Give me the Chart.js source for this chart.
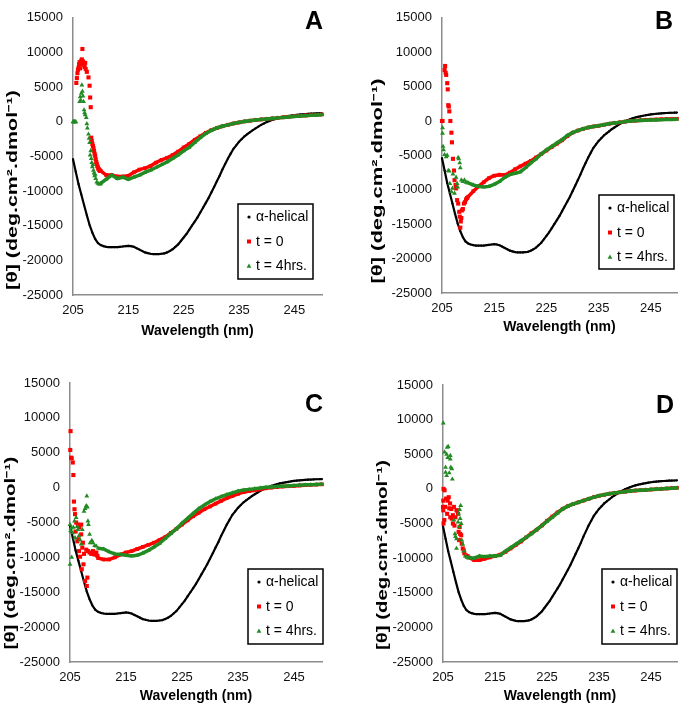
<!doctype html>
<html lang="en">
<head>
<meta charset="utf-8">
<title>CD spectra</title>
<script src="https://cdn.jsdelivr.net/npm/chart.js@4.4.0/dist/chart.umd.min.js"></script>
<style>
  body { margin: 0; background: #fff; }
  #page { position: relative; width: 683px; height: 707px; overflow: hidden; }
  .panel { position: absolute; }
</style>
</head>
<body>
<div id="page">
  <div class="panel" style="left:0;top:0;width:340px;height:350px"><canvas id="chartA"></canvas></div>
  <div class="panel" style="left:340px;top:0;width:343px;height:350px"><canvas id="chartB"></canvas></div>
  <div class="panel" style="left:0;top:350px;width:340px;height:357px"><canvas id="chartC"></canvas></div>
  <div class="panel" style="left:340px;top:350px;width:343px;height:357px"><canvas id="chartD"></canvas></div>
</div>
<script>
// axes and labels
const xTicks = [205, 215, 225, 235, 245];
const yTicks = [15000, 10000, 5000, 0, -5000, -10000, -15000, -20000, -25000];
const seriesLabels = ['α-helical', 't = 0', 't = 4hrs.'];
const xTitle = 'Wavelength (nm)';
const yTitle = '[θ] (deg.cm².dmol⁻¹)';

// reference alpha-helical spectrum (same in every panel)
const helicalWl = [205,205.5,206,206.5,207,207.5,208,208.5,209,209.5,210,210.5,211,211.5,212,212.5,213,213.5,214,214.5,
  215,215.5,216,216.5,217,217.5,218,218.5,219,219.5,220,220.5,221,221.5,222,222.5,223,223.5,224,224.5,
  225,225.5,226,226.5,227,227.5,228,228.5,229,229.5,230,230.5,231,231.5,232,232.5,233,233.5,234,234.5,
  235,235.5,236,236.5,237,237.5,238,238.5,239,239.5,240,240.5,241,241.5,242,242.5,243,243.5,244,244.5,
  245,245.5,246,246.5,247,247.5,248,248.5,249,249.5,250];
const helicalTheta = [-5400,-7200,-9000,-10500,-12000,-13500,-14900,-16000,-16900,-17500,
  -17800,-17950,-18050,-18100,-18100,-18100,-18100,-18050,-18000,-17950,
  -17900,-17950,-18050,-18250,-18450,-18650,-18850,-18950,-19050,-19100,
  -19100,-19100,-19050,-19000,-18850,-18650,-18400,-18050,-17700,-17200,
  -16700,-16200,-15600,-15000,-14400,-13800,-13100,-12400,-11700,-11000,
  -10200,-9400,-8600,-7800,-6900,-6100,-5300,-4600,-3900,-3400,
  -2900,-2500,-2100,-1800,-1500,-1200,-950,-700,-450,-250,
  -50,100,250,380,500,600,680,760,830,900,
  960,1010,1050,1080,1110,1140,1160,1180,1200,1210,
  1230];

// wavelengths of the smooth part of the sample curves
const smoothWl = [210,211,212,213,214,215,216,217,218,219,220,221,222,223,224,225,226,227,228,229,
  230,231,232,233,234,235,236,237,238,239,240,241,242,243,244,245,246,247,248,249,250];

// panel A
const aRedNoiseWl = [205.6,205.7,205.8,205.9,206.0,206.1,206.2,206.3,206.4,206.5,206.6,206.7,206.8,206.9,207.0,207.1,207.2,207.3,207.5,207.8,
  208.0,208.1,208.2,208.3,208.4,208.5,208.6,208.7,208.8,208.9,209.0,209.1,209.2,209.3,209.4,209.5,209.6,209.7,209.8,209.9];
const aRedNoise = [5600,6300,7000,7500,7800,8300,8600,7700,8300,8800,9000,10500,8700,8400,8200,7900,8500,7600,7200,6400,
  5200,3500,2100,-2300,-2800,-3200,-3500,-3800,-4200,-4600,-4900,-5400,-5800,-6100,-6400,-6600,-6800,-6900,-7000,-7100];
const aRed = [-7100,-7700,-7700,-7900,-7900,-7800,-7300,-6900,-6700,-6400,-5900,-5500,-5200,-4800,-4300,-3700,-3200,-2600,-2100,-1600,
  -1200,-900,-650,-450,-250,-100,50,150,250,330,400,480,560,640,720,800,850,900,950,1000,1050];
const aGreenNoiseWl = [205.0,205.1,205.2,205.3,205.4,205.5,206.2,206.3,206.4,206.5,206.6,206.7,206.8,206.9,207.0,207.1,207.2,207.4,207.5,207.6,
  207.8,207.9,208.0,208.1,208.2,208.3,208.4,208.5,208.6,208.7,208.8,208.9,209.0,209.1,209.3,209.5,209.7,209.9];
const aGreenNoise = [0,0,0,0,0,0,2900,3600,3100,4100,5300,4400,3700,2900,1700,1300,1000,600,-300,-900,
  -1800,-2400,-3000,-4800,-4200,-5300,-5900,-6500,-6200,-7000,-7400,-7800,-7600,-8200,-8700,-8900,-9000,-9000];
const aGreen = [-8900,-8300,-7700,-8200,-8000,-8300,-8000,-7700,-7300,-7000,-6600,-6200,-5800,-5300,-4800,-4200,-3700,-3000,-2300,-1700,
  -1250,-900,-650,-450,-250,-100,50,150,250,330,400,480,560,630,700,760,820,870,920,960,1000];

// panel B
const bRedNoiseWl = [205.0,205.1,205.5,205.6,205.7,205.8,206.0,206.1,206.2,206.3,206.4,206.6,206.8,206.9,207.1,207.3,207.4,207.6,207.7,207.9,
  208.1,208.3,208.4,208.5,208.6,208.7,208.8,209.0,209.2,209.4,209.6,209.8];
const bRedNoise = [0,0,7400,8000,7000,6700,5500,4600,2300,2100,1400,0,-1700,-3100,-5500,-7200,-8600,-9300,-9800,-11500,
  -12000,-13200,-13900,-15500,-14600,-14100,-13000,-12800,-12000,-11800,-11400,-11200];
const bRed = [-11000,-10200,-9500,-8900,-8300,-7950,-7800,-7850,-7500,-7000,-6600,-6200,-5800,-5300,-4800,-4300,-3800,-3300,-2800,-2200,
  -1700,-1400,-1150,-950,-800,-700,-550,-400,-300,-200,-100,0,50,100,150,200,220,250,280,300,320];
const bGreenNoiseWl = [205.1,205.1,205.2,205.3,205.5,205.8,206.0,206.2,206.4,206.5,206.8,207.0,207.1,207.4,207.7,207.9,208.0,208.1,208.2,208.4,
  208.5,208.7,209.0,209.3,209.6,209.9];
const bGreenNoise = [-1000,-1800,-3700,-4200,-4900,-5200,-5000,-7200,-7300,-9100,-10300,-9800,-7700,-10500,-8200,-9100,-9600,-5300,-5500,-6100,
  -6800,-8600,-8800,-8600,-8900,-9000];
const bGreen = [-9000,-9300,-9500,-9600,-9500,-9200,-8800,-8200,-7800,-7600,-7400,-6800,-6100,-5500,-4800,-4200,-3700,-3200,-2700,-2100,
  -1700,-1400,-1150,-950,-800,-700,-550,-400,-300,-200,-100,0,50,80,100,130,160,190,210,230,250];

// panel C
const cRedNoiseWl = [205.05,205.1,205.2,205.3,205.5,205.6,205.7,205.8,205.9,206.0,206.1,206.3,206.4,206.5,206.6,206.7,206.8,207.0,207.0,207.1,
  207.2,207.3,207.4,207.5,207.7,207.9,208.0,208.1,208.2,208.5,208.8,209.1,209.4,209.7,209.9];
const cRedNoise = [5400,8100,4300,4200,3600,1800,-2000,-3100,-3800,-6300,-5000,-7700,-5300,-7400,-9100,-5700,-9900,-5300,-6700,-11700,
  -8600,-7900,-11000,-9500,-13400,-8900,-14100,-12900,-9100,-9300,-9500,-9100,-9600,-9300,-9800];
const cRed = [-10100,-10300,-10300,-10000,-9600,-9300,-9100,-8800,-8500,-8200,-7900,-7500,-7100,-6500,-5900,-5300,-4700,-4100,-3600,-3100,
  -2700,-2300,-1900,-1500,-1200,-900,-650,-500,-380,-250,-100,0,80,150,200,250,300,350,400,430,470];
const cGreenNoiseWl = [205.0,205.0,205.1,205.2,205.3,205.5,205.6,205.8,205.9,206.1,206.3,206.4,206.6,206.8,207.0,207.2,207.5,207.7,207.9,208.0,
  208.1,208.2,208.3,208.5,208.6,208.9,209.1,209.4,209.7];
const cGreenNoise = [-11000,-5300,-6200,-5800,-10000,-6500,-5700,-4800,-7200,-4300,-5600,-6000,-6900,-7500,-8100,-6000,-3400,-3000,-2600,-1200,
  -2800,-4800,-5300,-6700,-7900,-7600,-7900,-8300,-8400];
const cGreen = [-8700,-8800,-9200,-9500,-9600,-9700,-9800,-9700,-9400,-9000,-8500,-8000,-7300,-6600,-5900,-5100,-4400,-3700,-3000,-2500,
  -2000,-1600,-1300,-1000,-750,-500,-350,-250,-150,-50,50,100,150,200,250,300,350,400,420,450,480];

// panel D
const dRedNoiseWl = [205.0,205.05,205.05,205.1,205.1,205.25,205.3,205.4,205.6,205.8,205.9,206.1,206.2,206.35,206.4,206.6,206.7,206.9,206.9,207.1,
  207.2,207.4,207.6,207.7,207.9,208.0,208.1,208.2,208.3,208.5,208.6,208.8,209.0,209.1,209.4,209.7];
const dRedNoise = [-2600,-1700,-3100,0,-5000,-4500,-200,-2600,-1400,-3600,-1700,-1200,-2800,-2100,-4100,-2900,-4300,-3800,-5000,-2600,
  -5300,-4100,-3100,-3100,-3600,-6200,-7400,-5500,-6500,-6700,-7900,-8600,-8900,-9300,-9600,-9700];
const dRed = [-9900,-10300,-10300,-10100,-9900,-9700,-9500,-9100,-8600,-8100,-7600,-7000,-6400,-5900,-5300,-4600,-4000,-3400,-2900,-2500,
  -2200,-1950,-1700,-1450,-1200,-1000,-850,-700,-600,-500,-400,-300,-250,-200,-150,-100,-50,0,50,100,150];
const dGreenNoiseWl = [205.05,205.3,205.5,205.5,205.7,205.7,205.8,205.9,206.0,206.2,206.4,206.4,206.5,206.7,206.8,207.1,207.3,207.4,207.6,207.6,
  207.9,208.0,208.1,208.2,208.3,208.4,208.5,208.6,208.8,209.0,209.3,209.6,209.9];
const dGreenNoise = [9500,5300,3100,2400,5000,1900,6000,4500,6100,2300,4800,4300,3100,2900,1400,-4500,-6500,-6900,-8600,-7200,
  -4800,-3600,-5500,-3000,-4300,-2400,-5000,-7400,-8000,-9000,-9700,-9900,-10000];
const dGreen = [-9900,-10000,-9700,-9800,-9700,-9700,-9600,-9000,-8500,-8000,-7500,-7000,-6500,-5900,-5300,-4700,-4100,-3500,-2900,-2500,
  -2200,-1950,-1700,-1450,-1200,-1000,-850,-700,-600,-500,-400,-300,-250,-200,-150,-100,-50,0,50,100,150];

const FONT = '"Liberation Sans", Arial, sans-serif';
const BLACK = '#000000';
const RED = '#ff0000';
const GREEN = '#238b23';

function pts(xs, ys) {
  return xs.map((x, i) => ({ x: x, y: ys[i] }));
}

// legend marker
function marker(ctx, style, color, x, y) {
  ctx.fillStyle = color;
  ctx.beginPath();
  if (style === 'circle') {
    ctx.arc(x, y, 1.6, 0, Math.PI * 2);
  } else if (style === 'rect') {
    ctx.rect(x - 2, y - 2, 4, 4);
  } else {
    ctx.moveTo(x, y - 2.6);
    ctx.lineTo(x + 2.4, y + 1.8);
    ctx.lineTo(x - 2.4, y + 1.8);
    ctx.closePath();
  }
  ctx.fill();
}

// y title, panel letter and the boxed legend inside the plot
const decor = {
  id: 'decor',
  afterDraw(chart, args, o) {
    const ctx = chart.ctx;
    ctx.save();
    ctx.fillStyle = '#000';
    ctx.font = 'bold 14px ' + FONT;
    ctx.textAlign = 'center';
    ctx.textBaseline = 'middle';
    const tw = ctx.measureText(yTitle).width;
    ctx.translate(o.titleX, o.titleY);
    ctx.rotate(-Math.PI / 2);
    ctx.scale(o.titleLen / tw, 1);
    ctx.fillText(yTitle, 0, 0);
    ctx.restore();

    ctx.save();
    ctx.fillStyle = '#000';
    ctx.font = 'bold 25px ' + FONT;
    ctx.textAlign = 'right';
    ctx.textBaseline = 'alphabetic';
    ctx.fillText(o.letter, o.letterX, o.letterY);
    ctx.restore();

    ctx.save();
    ctx.fillStyle = '#fff';
    ctx.fillRect(o.legX, o.legY, o.legW, o.legH);
    ctx.strokeStyle = '#000';
    ctx.lineWidth = 1.5;
    ctx.strokeRect(o.legX, o.legY, o.legW, o.legH);
    const styles = ['circle', 'rect', 'triangle'];
    const colors = [BLACK, RED, GREEN];
    const rows = [13, 37.5, 62];
    ctx.font = '14px ' + FONT;
    ctx.textAlign = 'left';
    ctx.textBaseline = 'middle';
    seriesLabels.forEach((lab, i) => {
      const y = o.legY + rows[i];
      marker(ctx, styles[i], colors[i], o.legX + 11, y);
      ctx.fillStyle = '#000';
      ctx.fillText(lab, o.legX + 18, y + 0.5);
    });
    ctx.restore();
  }
};

function makePanel(id, lay, redNoiseWl, redNoise, red, greenNoiseWl, greenNoise, green) {
  new Chart(document.getElementById(id), {
    type: 'scatter',
    data: {
      datasets: [
        { label: seriesLabels[2], data: pts(greenNoiseWl, greenNoise), order: 1, showLine: false,
          pointStyle: 'triangle', pointRadius: 2.8, pointBackgroundColor: GREEN, pointBorderColor: GREEN, pointBorderWidth: 0, clip: false },
        { label: seriesLabels[2], data: pts(smoothWl, green), order: 1, showLine: true, borderColor: GREEN, borderWidth: 3.5,
          pointStyle: 'triangle', pointRadius: 2.6, pointBackgroundColor: GREEN, pointBorderColor: GREEN, pointBorderWidth: 0, clip: false },
        { label: seriesLabels[1], data: pts(redNoiseWl, redNoise), order: 2, showLine: false,
          pointStyle: 'rect', pointRadius: 2.9, pointBackgroundColor: RED, pointBorderColor: RED, pointBorderWidth: 0, clip: false },
        { label: seriesLabels[1], data: pts(smoothWl, red), order: 2, showLine: true, borderColor: RED, borderWidth: 3.5,
          pointStyle: 'rect', pointRadius: 2.6, pointBackgroundColor: RED, pointBorderColor: RED, pointBorderWidth: 0, clip: false },
        { label: seriesLabels[0], data: pts(helicalWl, helicalTheta), order: 3, showLine: true, borderColor: BLACK, borderWidth: 2.2,
          pointRadius: 1.1, pointBackgroundColor: BLACK, pointBorderWidth: 0, clip: false }
      ]
    },
    options: {
      responsive: true,
      maintainAspectRatio: false,
      animation: false,
      events: [],
      layout: { padding: { left: 0, top: lay.top, right: lay.right, bottom: 0 } },
      plugins: {
        legend: { display: false },
        tooltip: { enabled: false },
        decor: lay.decor
      },
      scales: {
        x: {
          type: 'linear', min: 205, max: 250,
          afterBuildTicks: s => { s.ticks = xTicks.map(v => ({ value: v })); },
          afterFit: s => { s.height = lay.xH; },
          grid: { display: false, drawTicks: false },
          border: { display: true, color: '#8c8c8c', width: 1.5 },
          ticks: { padding: 8, color: '#111', font: { family: FONT, size: 13 }, callback: v => String(v) },
          title: { display: true, text: xTitle, color: '#000', font: { family: FONT, size: 14, weight: 'bold' },
                   padding: { top: 0, bottom: lay.xTitlePad } }
        },
        y: {
          type: 'linear', min: -25000, max: 15000,
          afterBuildTicks: s => { s.ticks = yTicks.map(v => ({ value: v })); },
          afterFit: s => { s.width = lay.left; },
          grid: { display: false, drawTicks: false },
          border: { display: true, color: '#8c8c8c', width: 1.5 },
          ticks: { padding: 10, color: '#111', font: { family: FONT, size: 13 }, callback: v => String(v) },
          title: { display: false }
        }
      }
    },
    plugins: [decor]
  });
}

makePanel('chartA',
  { left: 73, top: 10, right: 18, xH: 55, xTitlePad: 10,
    decor: { letter: 'A', titleX: 13, titleY: 190, titleLen: 200, letterX: 323, letterY: 29, legX: 238, legY: 204, legW: 75, legH: 75 } },
  aRedNoiseWl, aRedNoise, aRed, aGreenNoiseWl, aGreenNoise, aGreen);
makePanel('chartB',
  { left: 102, top: 9, right: 6, xH: 57, xTitlePad: 14,
    decor: { letter: 'B', titleX: 38, titleY: 181, titleLen: 205, letterX: 333, letterY: 29, legX: 259, legY: 195, legW: 75, legH: 74 } },
  bRedNoiseWl, bRedNoise, bRed, bGreenNoiseWl, bGreenNoise, bGreen);
makePanel('chartC',
  { left: 70, top: 33, right: 18, xH: 45, xTitlePad: 2,
    decor: { letter: 'C', titleX: 11, titleY: 203, titleLen: 193, letterX: 323, letterY: 62, legX: 248, legY: 219, legW: 75, legH: 75 } },
  cRedNoiseWl, cRedNoise, cRed, cGreenNoiseWl, cGreenNoise, cGreen);
makePanel('chartD',
  { left: 103, top: 35, right: 6, xH: 45, xTitlePad: 2,
    decor: { letter: 'D', titleX: 43, titleY: 205, titleLen: 190, letterX: 334, letterY: 63, legX: 262, legY: 219, legW: 75, legH: 75 } },
  dRedNoiseWl, dRedNoise, dRed, dGreenNoiseWl, dGreenNoise, dGreen);
</script>
</body>
</html>
